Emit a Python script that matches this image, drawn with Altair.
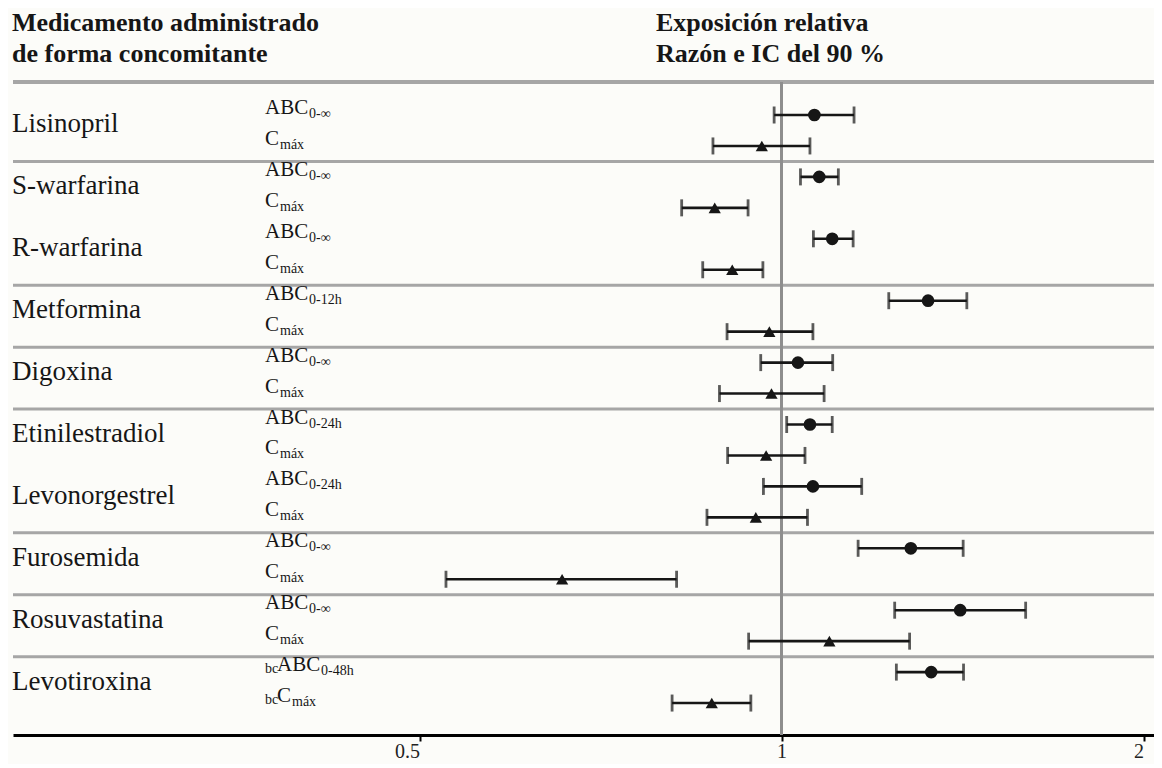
import altair as alt
import pandas as pd

# ---------------- data ----------------
drugs = ["Lisinopril", "S-warfarina", "R-warfarina", "Metformina", "Digoxina",
         "Etinilestradiol", "Levonorgestrel", "Furosemida", "Rosuvastatina", "Levotiroxina"]
sep_group = [0, 1, 1, 2, 3, 4, 4, 5, 6, 7]
auc_sub = ["0-∞", "0-∞", "0-∞", "0-12h", "0-∞", "0-24h", "0-24h", "0-∞", "0-∞", "0-48h"]
prefix = ["", "", "", "", "", "", "", "", "", "bc"]

auc_ratio = [1.065, 1.075, 1.102, 1.324, 1.032, 1.056, 1.062, 1.281, 1.408, 1.332]
auc_lo = [0.986, 1.037, 1.063, 1.228, 0.961, 1.010, 0.966, 1.158, 1.242, 1.246]
auc_hi = [1.149, 1.115, 1.147, 1.426, 1.103, 1.102, 1.166, 1.416, 1.596, 1.417]
cmax_ratio = [0.963, 0.880, 0.910, 0.977, 0.981, 0.971, 0.952, 0.657, 1.096, 0.875]
cmax_lo = [0.877, 0.826, 0.860, 0.901, 0.888, 0.902, 0.867, 0.526, 0.939, 0.811]
cmax_hi = [1.056, 0.938, 0.965, 1.062, 1.085, 1.046, 1.051, 0.818, 1.278, 0.943]

tick_values = [0.5, 1, 2]
header_left = ["Medicamento administrado", "de forma concomitante"]
header_right = ["Exposición relativa", "Razón e IC del 90 %"]

# ---------------- layout / style ----------------
W, H = 1141, 727
PX_PER_ROW = 30.95
Y_TOP = -107 / PX_PER_ROW
Y_BOT = Y_TOP + H / PX_PER_ROW
X_MIN = 2 ** (-768.5 / 362)
X_MAX = 2 ** (-768.5 / 362 + W / 362)
SERIF = "Liberation Serif"
INK = "#161616"
GRID_GRAY = "#a6a6a6"
LABEL_X = 252
PREFIX_W = 12
MAIN_W = {"ABC": 44, "C": 15}

rows = []
for i, d in enumerate(drugs):
    for k, (main, sub, r, lo, hi) in enumerate([
        ("ABC", auc_sub[i], auc_ratio[i], auc_lo[i], auc_hi[i]),
        ("C", "máx", cmax_ratio[i], cmax_lo[i], cmax_hi[i]),
    ]):
        mx = LABEL_X + (PREFIX_W if prefix[i] else 0)
        rows.append(dict(drug=d, row=2 * i + k, kind=main, main=main, sub=sub,
                         prefix=prefix[i], ratio=r, lo=lo, hi=hi,
                         px_pre=LABEL_X, px_main=mx, px_sub=mx + MAIN_W[main]))
df = pd.DataFrame(rows)

names = pd.DataFrame({"drug": drugs, "row": [2 * i + 0.5 for i in range(len(drugs))]})
seps = pd.DataFrame({"sep": [2 * i - 0.5 for i in range(1, len(drugs))
                             if sep_group[i] != sep_group[i - 1]]})
hdr = pd.DataFrame({"left": header_left, "right": header_right, "line": [0, 1]})

xs = alt.Scale(type="log", domain=[X_MIN, X_MAX], nice=False)
ys = alt.Scale(domain=[Y_TOP, Y_BOT], reverse=True, nice=False, zero=False)

base = alt.Chart(df)

sep_rules = alt.Chart(seps).mark_rule(color=GRID_GRAY, strokeWidth=3).encode(
    y=alt.Y("sep:Q", scale=ys, axis=None), x=alt.value(0), x2=alt.value(W))
top_rule = alt.Chart(seps).mark_rule(color=GRID_GRAY, strokeWidth=3).encode(
    y=alt.value(74), x=alt.value(0), x2=alt.value(W))
ref_line = alt.Chart(seps).mark_rule(color="#8e8e8e", strokeWidth=3).encode(
    x=alt.datum(1, scale=xs), y=alt.value(74), y2=alt.value(H))

bars = base.mark_rule(color=INK, strokeWidth=2.6).encode(
    x=alt.X("lo:Q", scale=xs, title=None,
            axis=alt.Axis(values=tick_values, format="~g", grid=False,
                          domainColor="#000", domainWidth=3, tickColor="#000",
                          tickWidth=2, tickSize=6, labelFont=SERIF, labelFontSize=20,
                          labelColor="#222", labelPadding=0,
                          labelAlign={"expr": "datum.value == 1 ? 'center' : 'right'"},
                          labelFlush=False)),
    x2="hi:Q",
    y=alt.Y("row:Q", scale=ys, axis=None))
caps_lo = base.mark_tick(orient="vertical", color=INK, thickness=2.8, size=17).encode(
    x=alt.X("lo:Q", scale=xs), y=alt.Y("row:Q", scale=ys))
caps_hi = base.mark_tick(orient="vertical", color=INK, thickness=2.8, size=17).encode(
    x=alt.X("hi:Q", scale=xs), y=alt.Y("row:Q", scale=ys))
pts = base.mark_point(filled=True, opacity=1, color=INK).encode(
    x=alt.X("ratio:Q", scale=xs), y=alt.Y("row:Q", scale=ys),
    shape=alt.Shape("kind:N", scale=alt.Scale(domain=["ABC", "C"],
                                              range=["circle", "triangle-up"]), legend=None),
    size=alt.Size("kind:N", scale=alt.Scale(domain=["ABC", "C"], range=[160, 150]), legend=None))

name_txt = alt.Chart(names).mark_text(font=SERIF, fontSize=27, align="left",
                                      baseline="alphabetic", dy=2, color=INK).encode(
    x=alt.value(-1), y=alt.Y("row:Q", scale=ys), text="drug:N")
main_txt = base.mark_text(font=SERIF, fontSize=21, align="left", baseline="alphabetic",
                          dy=-1, color=INK).encode(
    x=alt.X("px_main:Q", scale=None, axis=None), y=alt.Y("row:Q", scale=ys), text="main:N")
sub_txt = base.mark_text(font=SERIF, fontSize=14, align="left", baseline="alphabetic",
                         dy=3, color=INK).encode(
    x=alt.X("px_sub:Q", scale=None, axis=None), y=alt.Y("row:Q", scale=ys), text="sub:N")
pre_txt = base.mark_text(font=SERIF, fontSize=14, align="left", baseline="alphabetic",
                         dy=1, color=INK).encode(
    x=alt.X("px_pre:Q", scale=None, axis=None), y=alt.Y("row:Q", scale=ys), text="prefix:N")

hdr_l = alt.Chart(hdr).mark_text(font=SERIF, fontSize=26, fontWeight="bold", align="left",
                                 baseline="alphabetic", color=INK).encode(
    x=alt.value(-1), y=alt.Y("line:Q", scale=alt.Scale(domain=[0, 1], range=[23, 54]), axis=None),
    text="left:N")
hdr_r = alt.Chart(hdr).mark_text(font=SERIF, fontSize=26, fontWeight="bold", align="left",
                                 baseline="alphabetic", color=INK).encode(
    x=alt.value(643), y=alt.Y("line:Q", scale=alt.Scale(domain=[0, 1], range=[23, 54]), axis=None),
    text="right:N")

chart = alt.layer(
    sep_rules, top_rule, ref_line, bars, caps_lo, caps_hi, pts,
    name_txt, main_txt, sub_txt, pre_txt
).properties(width=W, height=H)

full = alt.layer(chart, alt.layer(hdr_l, hdr_r)).resolve_scale(y="independent").properties(
    width=W, height=H, background="#fcfcf9",
    padding={"left": 5, "top": 0, "right": 0, "bottom": 29},
    autosize=alt.AutoSizeParams(type="none"),
).configure_view(stroke=None)

full.save("out.html", embed_options={"renderer": "svg", "actions": False})
